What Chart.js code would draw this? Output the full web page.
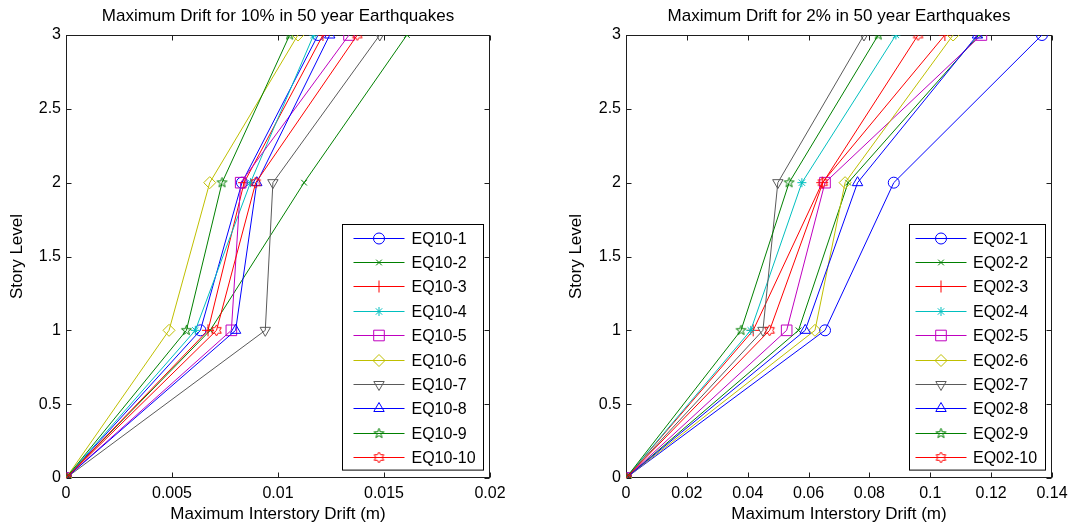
<!DOCTYPE html>
<html><head><meta charset="utf-8">
<script src="https://cdn.jsdelivr.net/npm/chart.js@4.4.0/dist/chart.umd.min.js"></script>
<style>
html,body{margin:0;padding:0;background:#fff;}
#wrap{position:relative;width:1076px;height:527px;overflow:hidden;background:#fff;}
.c{position:absolute;top:1px;width:517px;height:526px;}
canvas{display:block;}
</style></head><body>
<div id="wrap">
<div class="c" style="left:0"><canvas id="c1" width="517" height="526"></canvas></div>
<div class="c" style="left:559px"><canvas id="c2" width="517" height="526"></canvas></div>
</div>
<script>
// ---- data ----
const storyLevels = [0, 1, 2, 3];
const yTicks = [0, 0.5, 1, 1.5, 2, 2.5, 3];
const yTickLabels = ['0', '0.5', '1', '1.5', '2', '2.5', '3'];
const xTicks10 = [0, 0.005, 0.01, 0.015, 0.02];
const xTickLabels10 = ['0', '0.005', '0.01', '0.015', '0.02'];
const xTicks02 = [0, 0.02, 0.04, 0.06, 0.08, 0.1, 0.12, 0.14];
const xTickLabels02 = ['0', '0.02', '0.04', '0.06', '0.08', '0.1', '0.12', '0.14'];

const names10 = ['EQ10-1','EQ10-2','EQ10-3','EQ10-4','EQ10-5','EQ10-6','EQ10-7','EQ10-8','EQ10-9','EQ10-10'];
const eq10_1  = [0, 0.00634, 0.0083,  0.01189];
const eq10_2  = [0, 0.0068,  0.01123, 0.01608];
const eq10_3  = [0, 0.0067,  0.0084,  0.01212];
const eq10_4  = [0, 0.0061,  0.0087,  0.01168];
const eq10_5  = [0, 0.0078,  0.00824, 0.01335];
const eq10_6  = [0, 0.00486, 0.00678, 0.01094];
const eq10_7  = [0, 0.0094,  0.00976, 0.0148];
const eq10_8  = [0, 0.0080,  0.0090,  0.01244];
const eq10_9  = [0, 0.00568, 0.00736, 0.01055];
const eq10_10 = [0, 0.0071,  0.00895, 0.01374];

const names02 = ['EQ02-1','EQ02-2','EQ02-3','EQ02-4','EQ02-5','EQ02-6','EQ02-7','EQ02-8','EQ02-9','EQ02-10'];
const eq02_1  = [0, 0.0654, 0.0880, 0.1367];
const eq02_2  = [0, 0.0567, 0.0730, 0.1160];
const eq02_3  = [0, 0.0418, 0.0645, 0.1048];
const eq02_4  = [0, 0.0410, 0.0578, 0.0887];
const eq02_5  = [0, 0.0528, 0.0654, 0.1168];
const eq02_6  = [0, 0.0621, 0.0720, 0.1075];
const eq02_7  = [0, 0.0450, 0.0499, 0.0782];
const eq02_8  = [0, 0.0589, 0.0761, 0.1155];
const eq02_9  = [0, 0.0378, 0.0536, 0.0829];
const eq02_10 = [0, 0.0472, 0.0647, 0.0960];

// ---- styles ----
const seriesColors = ['#0000ff','#008000','#ff0000','#00bfbf','#bf00bf','#bfbf00','#5a5a5a','#0000ff','#008000','#ff0000'];
const FONT = '"Liberation Sans", Arial, Helvetica, sans-serif';

function starCanvas(color, points, outer, inner, rot) {
  const s = 15, c = document.createElement('canvas');
  c.width = s; c.height = s;
  const g = c.getContext('2d');
  g.strokeStyle = color; g.lineWidth = 1;
  g.beginPath();
  for (let k = 0; k < points * 2; k++) {
    const r = k % 2 === 0 ? outer : inner;
    const a = rot + k * Math.PI / points;
    const px = s / 2 + r * Math.sin(a), py = s / 2 - r * Math.cos(a);
    if (k === 0) g.moveTo(px, py); else g.lineTo(px, py);
  }
  g.closePath(); g.stroke();
  return c;
}
const pentaGreen = starCanvas('#008000', 5, 5.2, 2.1, 0);
const hexaRed = starCanvas('#ff0000', 6, 5.5, 3.2, 0);

const markerStyles = ['circle','crossRot','cross','star','rect','rectRot','triangle','triangle',pentaGreen,hexaRed];
const markerRotations = [0,0,0,0,0,0,180,0,0,0];
const markerRadii = [5.5,4,6,4.5,7.5,6,6,6,6,6];

function makeDatasets(names, series) {
  return series.map((vals, i) => ({
    label: names[i],
    data: vals.map((v, k) => ({ x: v, y: storyLevels[k] })),
    showLine: true,
    borderColor: seriesColors[i],
    borderWidth: 1,
    pointStyle: markerStyles[i],
    rotation: markerRotations[i],
    pointRadius: markerRadii[i],
    pointBorderWidth: 1,
    pointBorderColor: seriesColors[i],
    pointBackgroundColor: 'rgba(0,0,0,0)',
    tension: 0,
    order: 10 - i
  }));
}

// ---- plugins ----
const axesBox = {
  id: 'axesBox',
  beforeDatasetsDraw(chart) {
    const { ctx, chartArea: a, scales: { x, y } } = chart;
    ctx.save();
    ctx.strokeStyle = '#1e1e1e'; ctx.lineWidth = 1;
    const L = Math.round(a.left) + 0.5, R = Math.round(a.right) - 0.5;
    const T = Math.round(a.top) + 0.5, B = Math.round(a.bottom) - 0.5;
    ctx.strokeRect(L, T, R - L, B - T);
    const tl = 5;
    ctx.beginPath();
    x.ticks.forEach(t => {
      const px = Math.round(x.getPixelForValue(t.value)) + 0.5;
      ctx.moveTo(px, B); ctx.lineTo(px, B - tl);
      ctx.moveTo(px, T); ctx.lineTo(px, T + tl);
    });
    y.ticks.forEach(t => {
      const py = Math.round(y.getPixelForValue(t.value)) + 0.5;
      ctx.moveTo(L, py); ctx.lineTo(L + tl, py);
      ctx.moveTo(R, py); ctx.lineTo(R - tl, py);
    });
    ctx.stroke();
    ctx.restore();
  }
};

const axTitle = {
  id: 'axTitle',
  afterDraw(chart, args, opts) {
    const { ctx, chartArea: a } = chart;
    ctx.save();
    ctx.fillStyle = '#000';
    ctx.font = opts.size + 'px ' + FONT;
    ctx.textAlign = 'center'; ctx.textBaseline = 'middle';
    ctx.fillText(opts.text, (a.left + a.right) / 2, opts.y);
    ctx.restore();
  }
};

const mLegend = {
  id: 'mLegend',
  afterDatasetsDraw(chart, args, opts) {
    const { ctx, chartArea: a } = chart;
    const dss = chart.data.datasets;
    const rowH = 24.4, padV = 13;
    const w = opts.width, h = (dss.length - 1) * rowH + 2 * padV;
    const right = a.right - 7, bottom = a.bottom - 8.5;
    const left = Math.round(right - w) + 0.5, top = Math.round(bottom - h) + 0.5;
    ctx.save();
    ctx.fillStyle = '#fff'; ctx.fillRect(left, top, w, h);
    ctx.strokeStyle = '#000'; ctx.lineWidth = 1; ctx.strokeRect(left, top, w, h);
    dss.forEach((ds, i) => {
      const cy = Math.round(top + padV + i * rowH) + 0.5;
      const x0 = left + opts.lineStart, x1 = x0 + 51;
      ctx.strokeStyle = ds.borderColor; ctx.lineWidth = 1;
      ctx.beginPath(); ctx.moveTo(x0, cy); ctx.lineTo(x1, cy); ctx.stroke();
      ctx.fillStyle = 'rgba(0,0,0,0)';
      Chart.helpers.drawPoint(ctx, { pointStyle: ds.pointStyle, rotation: ds.rotation || 0, radius: ds.pointRadius, borderWidth: 1 }, (x0 + x1) / 2, cy);
      ctx.fillStyle = '#000';
      ctx.font = '16px ' + FONT;
      ctx.textAlign = 'left'; ctx.textBaseline = 'middle';
      ctx.fillText(ds.label, left + opts.textStart, cy + 1);
    });
    ctx.restore();
  }
};

function makeChart(id, names, series, xMax, xTicks, xTickLabels, title, yWidth, rightPad, legendOpts) {
  return new Chart(document.getElementById(id), {
    type: 'scatter',
    data: { datasets: makeDatasets(names, series) },
    options: {
      responsive: false, animation: false, devicePixelRatio: 1, events: [],
      layout: { padding: { top: 34, right: rightPad, bottom: 0, left: 0 } },
      plugins: {
        legend: { display: false }, tooltip: { enabled: false }, title: { display: false },
        axTitle: { text: title, y: 15, size: 17 },
        mLegend: legendOpts
      },
      scales: {
        x: {
          type: 'linear', min: 0, max: xMax,
          afterBuildTicks: s => { s.ticks = xTicks.map(v => ({ value: v })); },
          afterFit: s => { s.height = 49; },
          grid: { display: false, drawTicks: false, tickLength: 0 },
          border: { display: false },
          ticks: { padding: 6, color: '#000', font: { family: FONT, size: 16 }, maxRotation: 0, autoSkip: false,
                   callback: v => xTickLabels[xTicks.indexOf(v)] },
          title: { display: true, text: 'Maximum Interstory Drift (m)', color: '#000', font: { family: FONT, size: 17 }, padding: { top: 0, bottom: 2 } }
        },
        y: {
          type: 'linear', min: 0, max: 3,
          afterBuildTicks: s => { s.ticks = yTicks.map(v => ({ value: v })); },
          afterFit: s => { s.width = yWidth; },
          grid: { display: false, drawTicks: false, tickLength: 0 },
          border: { display: false },
          ticks: { padding: 5, color: '#000', font: { family: FONT, size: 16 }, autoSkip: false,
                   callback: v => yTickLabels[yTicks.indexOf(v)] },
          title: { display: true, text: 'Story Level', color: '#000', font: { family: FONT, size: 17 }, padding: { top: 7.5, bottom: 0 } }
        }
      }
    },
    plugins: [axesBox, axTitle, mLegend]
  });
}

makeChart('c1', names10, [eq10_1, eq10_2, eq10_3, eq10_4, eq10_5, eq10_6, eq10_7, eq10_8, eq10_9, eq10_10],
  0.02, xTicks10, xTickLabels10, 'Maximum Drift for 10% in 50 year Earthquakes', 66, 27,
  { width: 141, lineStart: 11, textStart: 69 });
makeChart('c2', names02, [eq02_1, eq02_2, eq02_3, eq02_4, eq02_5, eq02_6, eq02_7, eq02_8, eq02_9, eq02_10],
  0.14, xTicks02, xTickLabels02, 'Maximum Drift for 2% in 50 year Earthquakes', 67, 24,
  { width: 136, lineStart: 6, textStart: 63.5 });
</script>
</body></html>
